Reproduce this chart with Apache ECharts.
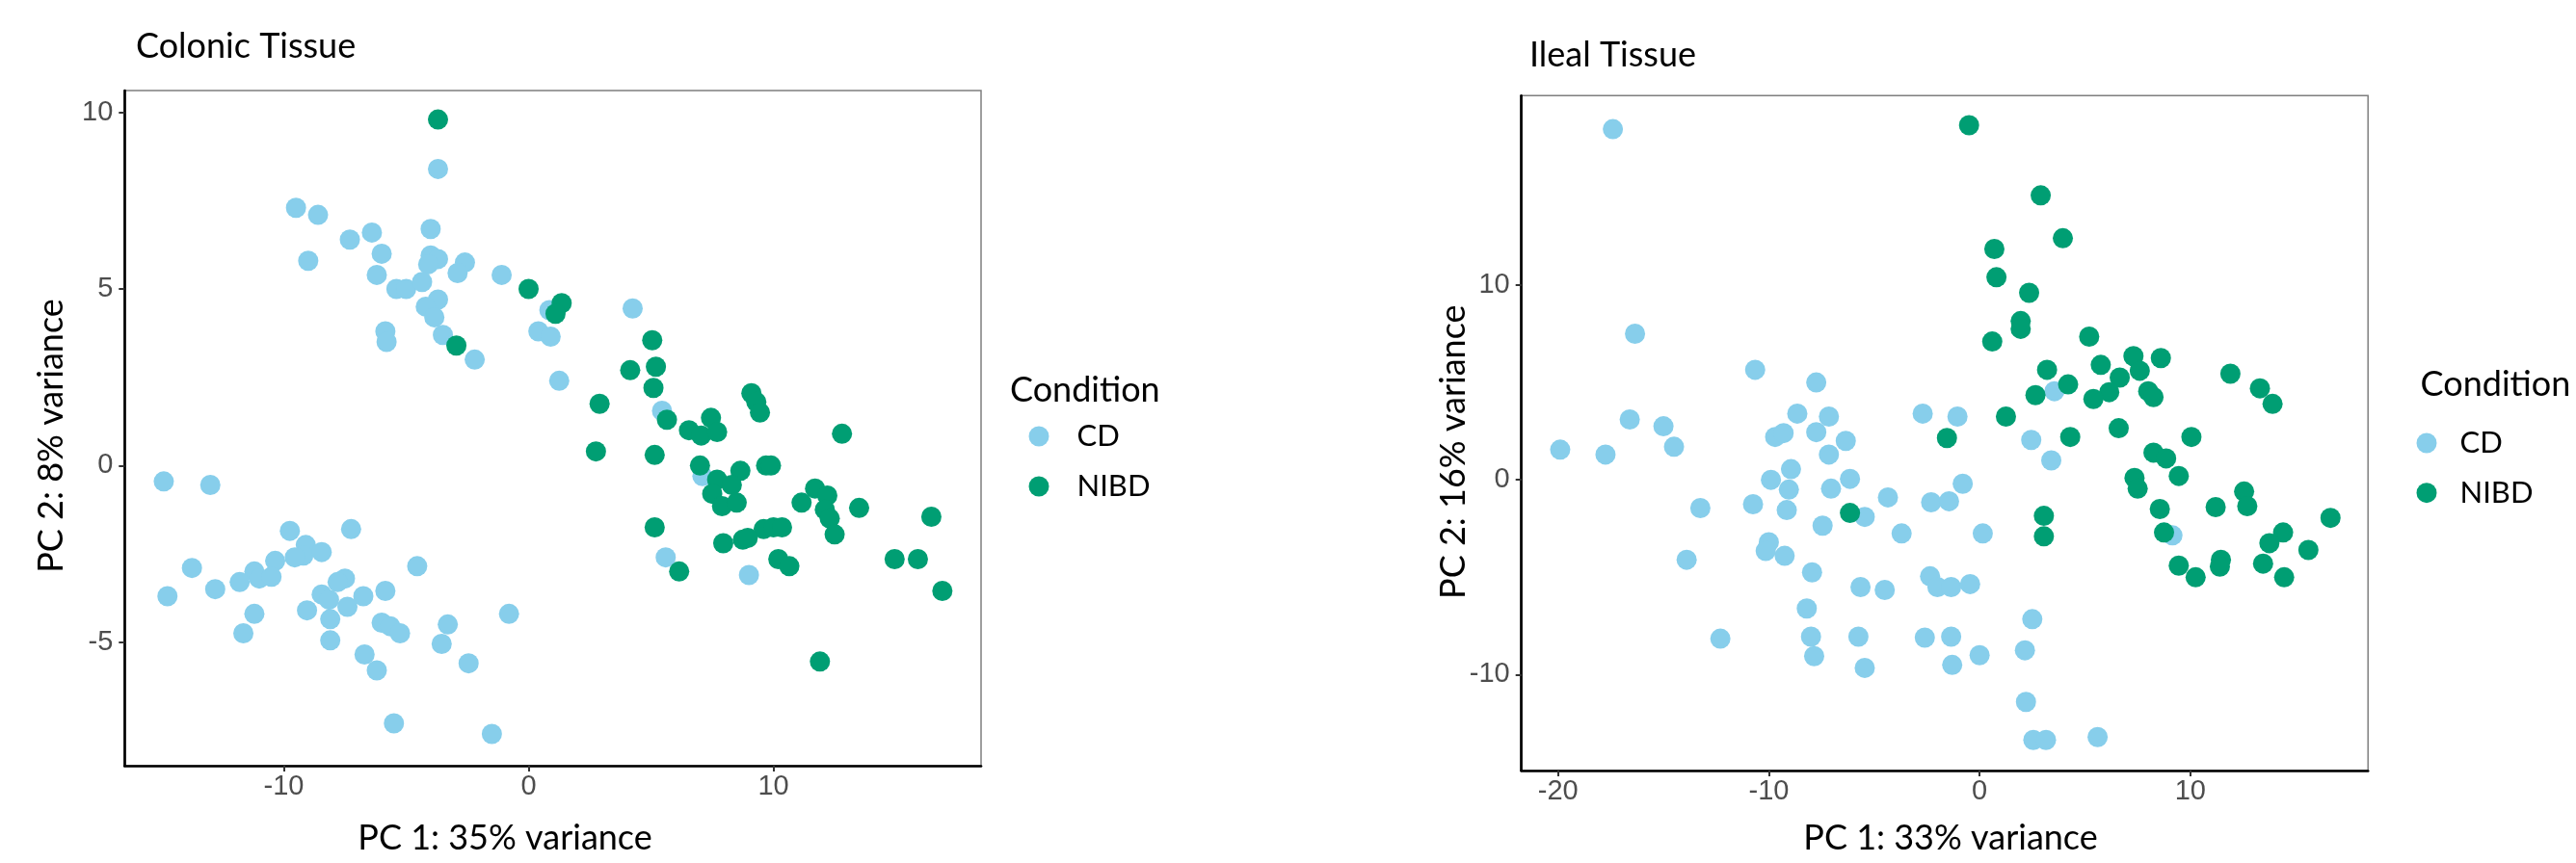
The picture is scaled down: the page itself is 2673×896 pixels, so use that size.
<!DOCTYPE html>
<html>
<head>
<meta charset="utf-8">
<title>PCA – Colonic and Ileal Tissue</title>
<script src="https://cdn.jsdelivr.net/npm/echarts@6/dist/echarts.min.js"></script>
<style>
  html, body { margin: 0; padding: 0; background: #ffffff; }
  #chart { width: 2673px; height: 896px; }
</style>
</head>
<body>
<div id="chart"></div>
<script>
// PCA scores (PC1, PC2) per sample, grouped by tissue and condition
const colonicCD = [
  [-3.7, 8.4], [-9.5, 7.3], [-8.6, 7.1], [-7.3, 6.4], [-6.4, 6.6], [-4.0, 6.7], [-6.0, 6.0],
  [-9.0, 5.8], [-6.2, 5.4], [-4.0, 5.95], [-3.7, 5.85], [-4.1, 5.7], [-2.6, 5.75], [-2.9, 5.45],
  [-1.1, 5.4], [-5.4, 5.0], [-5.0, 5.0], [-4.35, 5.2], [-3.7, 4.7], [-4.2, 4.5], [-3.85, 4.2],
  [0.85, 4.4], [-5.85, 3.8], [-5.8, 3.5], [-3.5, 3.7], [-2.2, 3.0], [0.4, 3.8], [0.9, 3.65],
  [1.25, 2.4], [4.25, 4.45], [5.45, 1.55], [7.1, -0.3], [5.6, -2.6], [9.0, -3.1], [-0.8, -4.2],
  [-1.5, -7.6], [-14.9, -0.45], [-13.0, -0.55], [-9.75, -1.85], [-7.25, -1.8], [-9.1, -2.25],
  [-9.2, -2.55], [-9.55, -2.6], [-8.45, -2.45], [-10.35, -2.7], [-11.2, -3.0], [-11.0, -3.2],
  [-10.5, -3.15], [-11.8, -3.3], [-13.75, -2.9], [-14.75, -3.7], [-12.8, -3.5], [-11.2, -4.2],
  [-11.65, -4.75], [-7.5, -3.2], [-7.8, -3.3], [-8.45, -3.65], [-8.15, -3.8], [-6.75, -3.7],
  [-5.85, -3.55], [-4.55, -2.85], [-9.05, -4.1], [-7.4, -4.0], [-8.1, -4.35], [-8.1, -4.95],
  [-6.0, -4.45], [-5.65, -4.55], [-5.25, -4.75], [-3.3, -4.5], [-3.55, -5.05], [-6.7, -5.35],
  [-6.2, -5.8], [-2.45, -5.6], [-5.5, -7.3]
];
const colonicNIBD = [
  [-3.7, 9.8], [0.0, 5.0], [1.35, 4.6], [1.1, 4.3], [-2.95, 3.4], [5.05, 3.55], [4.15, 2.7],
  [5.2, 2.8], [5.1, 2.2], [2.9, 1.75], [5.65, 1.3], [9.1, 2.05], [9.3, 1.8], [9.45, 1.5],
  [6.55, 1.0], [7.45, 1.35], [7.05, 0.85], [7.7, 0.95], [12.8, 0.9], [2.75, 0.4], [5.15, 0.3],
  [7.0, 0.0], [8.65, -0.15], [9.7, 0.0], [9.9, 0.0], [7.7, -0.4], [8.3, -0.55], [7.5, -0.8],
  [7.9, -1.15], [8.5, -1.05], [11.7, -0.65], [12.2, -0.85], [11.15, -1.05], [12.1, -1.25],
  [12.3, -1.5], [12.5, -1.95], [13.5, -1.2], [16.45, -1.45], [5.15, -1.75], [9.6, -1.8],
  [10.0, -1.75], [10.35, -1.75], [7.95, -2.2], [8.75, -2.1], [8.95, -2.05], [6.15, -3.0],
  [10.2, -2.65], [10.65, -2.85], [14.95, -2.65], [15.9, -2.65], [16.9, -3.55], [11.9, -5.55]
];
const ilealCD = [
  [-17.4, 18.0], [-16.35, 7.5], [-10.65, 5.65], [-7.75, 5.0], [-8.65, 3.4], [-7.15, 3.25],
  [-2.7, 3.4], [-1.05, 3.25], [-16.6, 3.1], [-15.0, 2.75], [3.55, 4.55], [2.45, 2.05],
  [3.4, 1.0], [-0.8, -0.2], [-2.3, -1.15], [-1.45, -1.1], [9.15, -2.85], [0.15, -2.75],
  [-3.7, -2.75], [-2.35, -4.95], [-2.0, -5.5], [-1.35, -5.5], [-0.45, -5.35], [2.5, -7.15],
  [-2.6, -8.1], [-1.35, -8.05], [0.0, -9.0], [-1.3, -9.5], [2.15, -8.75], [2.2, -11.4],
  [2.55, -13.35], [3.15, -13.35], [5.6, -13.2], [-19.9, 1.55], [-17.75, 1.3], [-14.5, 1.7],
  [-13.25, -1.45], [-13.9, -4.1], [-12.3, -8.15], [-10.75, -1.25], [-9.7, 2.2], [-9.3, 2.4],
  [-7.75, 2.45], [-6.35, 2.0], [-7.15, 1.3], [-8.95, 0.55], [-9.9, 0.0], [-9.05, -0.5],
  [-6.15, 0.05], [-7.05, -0.45], [-4.35, -0.9], [-9.15, -1.55], [-5.45, -1.9], [-7.45, -2.35],
  [-10.0, -3.2], [-10.15, -3.65], [-9.25, -3.9], [-7.95, -4.75], [-5.65, -5.5], [-4.5, -5.65],
  [-8.2, -6.6], [-8.0, -8.05], [-7.85, -9.05], [-5.75, -8.05], [-5.45, -9.65]
];
const ilealNIBD = [
  [-0.5, 18.2], [2.9, 14.6], [3.95, 12.4], [0.7, 11.85], [0.8, 10.4], [2.35, 9.6], [1.95, 8.15],
  [1.95, 7.75], [0.6, 7.1], [5.2, 7.35], [7.3, 6.35], [7.6, 5.6], [8.6, 6.25], [5.75, 5.9],
  [6.65, 5.25], [3.2, 5.65], [4.2, 4.9], [2.65, 4.35], [6.15, 4.5], [5.4, 4.15], [8.0, 4.55],
  [8.25, 4.25], [11.9, 5.45], [13.3, 4.7], [13.9, 3.9], [1.25, 3.25], [-1.55, 2.15], [4.3, 2.2],
  [6.6, 2.65], [10.05, 2.2], [8.25, 1.4], [8.85, 1.1], [9.45, 0.2], [7.35, 0.1], [7.5, -0.45],
  [12.55, -0.6], [12.7, -1.35], [11.2, -1.4], [8.55, -1.5], [3.05, -1.85], [3.05, -2.9],
  [16.65, -1.95], [8.75, -2.7], [14.4, -2.7], [13.75, -3.25], [15.6, -3.6], [9.45, -4.4],
  [10.25, -5.0], [11.45, -4.1], [11.4, -4.45], [13.45, -4.3], [14.45, -5.0], [-6.15, -1.7]
];

// Tick positions
const colonicXTicks = [-10, 0, 10];
const colonicYTicks = [-5, 0, 5, 10];
const ilealXTicks = [-20, -10, 0, 10];
const ilealYTicks = [-10, 0, 10];

// Group names and panel text
const conditions = ['CD', 'NIBD'];
const panelTitles = ['Colonic Tissue', 'Ileal Tissue'];
const xTitles = ['PC 1: 35% variance', 'PC 1: 33% variance'];
const yTitles = ['PC 2: 8% variance', 'PC 2: 16% variance'];
const legendTitle = 'Condition';

const COLORS = { CD: '#87CEEB', NIBD: '#009E73' };
const TEXT_FONT = 'Lato, "Open Sans", sans-serif';
const TICK_FONT = '"Liberation Sans", Arial, sans-serif';

function valueAxis(gridIndex, min, max, ticks, margin) {
  return {
    type: 'value',
    gridIndex: gridIndex,
    min: min,
    max: max,
    splitLine: { show: false },
    axisLine: { show: true, onZero: false, lineStyle: { color: '#000000', width: 2.7 } },
    axisTick: { show: true, customValues: ticks, length: 6, lineStyle: { color: '#333333', width: 2 } },
    axisLabel: { customValues: ticks, fontSize: 29, color: '#4d4d4d', fontFamily: TICK_FONT, margin: margin }
  };
}

function scatter(name, data, idx) {
  return {
    type: 'scatter',
    name: name,
    xAxisIndex: idx,
    yAxisIndex: idx,
    data: data,
    symbol: 'circle',
    symbolSize: 21,
    itemStyle: { color: COLORS[name], opacity: 1 },
    emphasis: { disabled: true },
    silent: true,
    animation: false
  };
}

function legendBox(left, top, gap, pad) {
  return {
    orient: 'vertical',
    left: left,
    top: top,
    padding: 0,
    itemGap: gap,
    itemWidth: 21,
    itemHeight: 21,
    icon: 'circle',
    selectedMode: false,
    data: conditions,
    textStyle: { fontSize: 31, fontFamily: TEXT_FONT, color: '#000000', padding: [0, 0, 0, pad] }
  };
}

function label(text, x, y, size, rotate, align) {
  return {
    type: 'text',
    x: x,
    y: y,
    rotation: rotate ? Math.PI / 2 : 0,
    silent: true,
    style: {
      text: text,
      fill: '#000000',
      fontSize: size,
      fontFamily: TEXT_FONT,
      align: align,
      textAlign: align,
      verticalAlign: 'middle',
      textVerticalAlign: 'middle'
    }
  };
}

const chart = echarts.init(document.getElementById('chart'), null, { renderer: 'canvas' });

chart.setOption({
  backgroundColor: '#ffffff',
  animation: false,
  grid: [
    { left: 129.3, top: 94, width: 888.7, height: 701, show: true, borderColor: '#7f7f7f', borderWidth: 1.5 },
    { left: 1578.7, top: 99.3, width: 878.5, height: 700.7, show: true, borderColor: '#7f7f7f', borderWidth: 1.5 }
  ],
  xAxis: [
    valueAxis(0, -16.5, 18.48, colonicXTicks, 7),
    valueAxis(1, -21.74, 18.43, ilealXTicks, 7)
  ],
  yAxis: [
    valueAxis(0, -8.5, 10.62, colonicYTicks, 12),
    valueAxis(1, -14.92, 19.72, ilealYTicks, 12)
  ],
  legend: [
    legendBox(1067.5, 437.5, 21, 24),
    legendBox(2507.5, 444.5, 20.7, 19)
  ],
  series: [
    scatter('CD', colonicCD, 0),
    scatter('NIBD', colonicNIBD, 0),
    scatter('CD', ilealCD, 1),
    scatter('NIBD', ilealNIBD, 1)
  ],
  graphic: [
    label(panelTitles[0], 141, 48.5, 36, false, 'left'),
    label(panelTitles[1], 1587, 57.7, 36, false, 'left'),
    label(xTitles[0], 524, 870, 36, false, 'center'),
    label(xTitles[1], 2024, 870, 36, false, 'center'),
    label(yTitles[0], 53.7, 452.5, 36, true, 'center'),
    label(yTitles[1], 1508.8, 469.2, 36, true, 'center'),
    label(legendTitle, 1048, 405, 36, false, 'left'),
    label(legendTitle, 2511.6, 399.5, 36, false, 'left')
  ]
});
</script>
</body>
</html>
